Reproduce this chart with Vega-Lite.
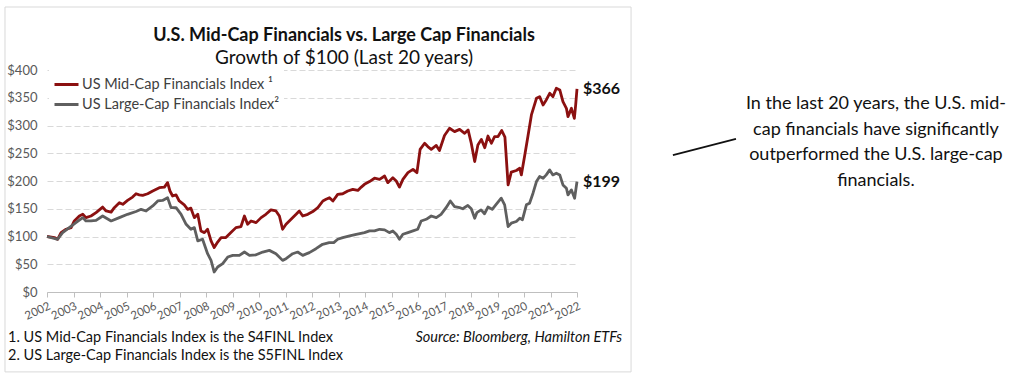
{
  "$schema": "https://vega.github.io/schema/vega-lite/v6.json",
  "width": 530,
  "height": 222,
  "autosize": {"type": "none"},
  "padding": {"left": 47, "top": 70, "right": 440, "bottom": 89},
  "background": "white",
  "title": {
    "text": "U.S. Mid-Cap Financials vs. Large Cap Financials",
    "subtitle": "Growth of $100 (Last 20 years)",
    "anchor": "middle",
    "dx": 32,
    "offset": -61,
    "font": "Lato",
    "fontSize": 18,
    "fontWeight": "bold",
    "color": "#111111",
    "subtitleFont": "Lato",
    "subtitleFontSize": 19,
    "subtitleColor": "#111111",
    "subtitlePadding": 4
  },
  "config": {
    "view": {"stroke": null},
    "font": "Lato",
    "axisX": {
      "format": "d", "labelFont": "Lato", "labelFontSize": 11.5, "labelColor": "#595959", "labelPadding": 3,
      "labelFlush": false, "grid": false, "domainColor": "#bfbfbf", "tickColor": "#bfbfbf", "tickSize": 5
    },
    "axisY": {
      "values": [0,50,100,150,200,250,300,350,400],
      "format": "$,.0f", "domain": false, "ticks": false, "labelPadding": 10,
      "labelOverlap": false,
      "labelFont": "Lato", "labelFontSize": 13, "labelColor": "#595959",
      "grid": true, "gridColor": "#d9d9d9", "gridDash": [6, 3]
    }
  },
  "datasets": {
    "d": [
      {"s":"mid","year":2002.0,"value":100},{"s":"mid","year":2002.28,"value":98},{"s":"mid","year":2002.4,"value":95},{"s":"mid","year":2002.53,"value":107},{"s":"mid","year":2002.72,"value":113},{"s":"mid","year":2002.91,"value":116},{"s":"mid","year":2003.03,"value":128},{"s":"mid","year":2003.22,"value":137},{"s":"mid","year":2003.35,"value":140},{"s":"mid","year":2003.47,"value":134},{"s":"mid","year":2003.66,"value":137},{"s":"mid","year":2003.85,"value":143},{"s":"mid","year":2004.1,"value":153},{"s":"mid","year":2004.23,"value":146},{"s":"mid","year":2004.42,"value":144},{"s":"mid","year":2004.54,"value":152},{"s":"mid","year":2004.73,"value":161},{"s":"mid","year":2004.86,"value":158},{"s":"mid","year":2005.04,"value":165},{"s":"mid","year":2005.23,"value":171},{"s":"mid","year":2005.36,"value":177},{"s":"mid","year":2005.48,"value":175},{"s":"mid","year":2005.61,"value":174},{"s":"mid","year":2005.8,"value":177},{"s":"mid","year":2005.99,"value":182},{"s":"mid","year":2006.24,"value":188},{"s":"mid","year":2006.43,"value":189},{"s":"mid","year":2006.55,"value":197},{"s":"mid","year":2006.64,"value":182},{"s":"mid","year":2006.74,"value":173},{"s":"mid","year":2006.87,"value":175},{"s":"mid","year":2006.99,"value":164},{"s":"mid","year":2007.18,"value":157},{"s":"mid","year":2007.31,"value":149},{"s":"mid","year":2007.43,"value":151},{"s":"mid","year":2007.56,"value":134},{"s":"mid","year":2007.69,"value":140},{"s":"mid","year":2007.81,"value":110},{"s":"mid","year":2007.94,"value":107},{"s":"mid","year":2008.06,"value":113},{"s":"mid","year":2008.19,"value":92},{"s":"mid","year":2008.31,"value":80},{"s":"mid","year":2008.44,"value":90},{"s":"mid","year":2008.57,"value":98},{"s":"mid","year":2008.75,"value":98},{"s":"mid","year":2008.94,"value":107},{"s":"mid","year":2009.13,"value":116},{"s":"mid","year":2009.32,"value":118},{"s":"mid","year":2009.45,"value":137},{"s":"mid","year":2009.57,"value":122},{"s":"mid","year":2009.7,"value":128},{"s":"mid","year":2009.89,"value":125},{"s":"mid","year":2010.08,"value":134},{"s":"mid","year":2010.26,"value":140},{"s":"mid","year":2010.45,"value":148},{"s":"mid","year":2010.64,"value":146},{"s":"mid","year":2010.77,"value":137},{"s":"mid","year":2010.89,"value":113},{"s":"mid","year":2011.02,"value":122},{"s":"mid","year":2011.21,"value":131},{"s":"mid","year":2011.4,"value":140},{"s":"mid","year":2011.52,"value":146},{"s":"mid","year":2011.65,"value":137},{"s":"mid","year":2011.84,"value":140},{"s":"mid","year":2012.03,"value":145},{"s":"mid","year":2012.22,"value":152},{"s":"mid","year":2012.41,"value":164},{"s":"mid","year":2012.53,"value":167},{"s":"mid","year":2012.66,"value":170},{"s":"mid","year":2012.79,"value":164},{"s":"mid","year":2012.97,"value":176},{"s":"mid","year":2013.16,"value":177},{"s":"mid","year":2013.35,"value":182},{"s":"mid","year":2013.54,"value":185},{"s":"mid","year":2013.73,"value":183},{"s":"mid","year":2013.86,"value":189},{"s":"mid","year":2013.98,"value":194},{"s":"mid","year":2014.17,"value":199},{"s":"mid","year":2014.36,"value":205},{"s":"mid","year":2014.55,"value":203},{"s":"mid","year":2014.74,"value":209},{"s":"mid","year":2014.86,"value":197},{"s":"mid","year":2015.05,"value":206},{"s":"mid","year":2015.18,"value":200},{"s":"mid","year":2015.3,"value":189},{"s":"mid","year":2015.43,"value":203},{"s":"mid","year":2015.62,"value":215},{"s":"mid","year":2015.81,"value":221},{"s":"mid","year":2015.96,"value":215},{"s":"mid","year":2016.08,"value":257},{"s":"mid","year":2016.25,"value":268},{"s":"mid","year":2016.37,"value":262},{"s":"mid","year":2016.5,"value":257},{"s":"mid","year":2016.69,"value":264},{"s":"mid","year":2016.81,"value":255},{"s":"mid","year":2017.0,"value":282},{"s":"mid","year":2017.19,"value":295},{"s":"mid","year":2017.38,"value":289},{"s":"mid","year":2017.57,"value":293},{"s":"mid","year":2017.76,"value":286},{"s":"mid","year":2017.89,"value":292},{"s":"mid","year":2018.01,"value":268},{"s":"mid","year":2018.14,"value":235},{"s":"mid","year":2018.26,"value":265},{"s":"mid","year":2018.39,"value":275},{"s":"mid","year":2018.52,"value":260},{"s":"mid","year":2018.64,"value":281},{"s":"mid","year":2018.77,"value":268},{"s":"mid","year":2018.89,"value":280},{"s":"mid","year":2019.02,"value":280},{"s":"mid","year":2019.16,"value":291},{"s":"mid","year":2019.28,"value":279},{"s":"mid","year":2019.4,"value":193},{"s":"mid","year":2019.52,"value":216},{"s":"mid","year":2019.71,"value":219},{"s":"mid","year":2019.84,"value":223},{"s":"mid","year":2019.9,"value":211},{"s":"mid","year":2020.03,"value":247},{"s":"mid","year":2020.15,"value":281},{"s":"mid","year":2020.28,"value":319},{"s":"mid","year":2020.47,"value":349},{"s":"mid","year":2020.59,"value":352},{"s":"mid","year":2020.72,"value":337},{"s":"mid","year":2020.84,"value":346},{"s":"mid","year":2020.97,"value":358},{"s":"mid","year":2021.09,"value":352},{"s":"mid","year":2021.22,"value":367},{"s":"mid","year":2021.35,"value":364},{"s":"mid","year":2021.47,"value":343},{"s":"mid","year":2021.6,"value":331},{"s":"mid","year":2021.66,"value":316},{"s":"mid","year":2021.79,"value":331},{"s":"mid","year":2021.9,"value":313},{"s":"mid","year":2021.95,"value":337},{"s":"mid","year":2022.0,"value":366},
      {"s":"large","year":2002.0,"value":100},{"s":"large","year":2002.4,"value":95},{"s":"large","year":2002.59,"value":107},{"s":"large","year":2002.84,"value":116},{"s":"large","year":2003.09,"value":125},{"s":"large","year":2003.35,"value":134},{"s":"large","year":2003.47,"value":128},{"s":"large","year":2003.66,"value":128},{"s":"large","year":2003.85,"value":129},{"s":"large","year":2004.1,"value":137},{"s":"large","year":2004.42,"value":128},{"s":"large","year":2004.73,"value":134},{"s":"large","year":2005.04,"value":140},{"s":"large","year":2005.36,"value":145},{"s":"large","year":2005.55,"value":149},{"s":"large","year":2005.74,"value":146},{"s":"large","year":2005.99,"value":155},{"s":"large","year":2006.18,"value":164},{"s":"large","year":2006.36,"value":165},{"s":"large","year":2006.55,"value":170},{"s":"large","year":2006.68,"value":152},{"s":"large","year":2006.87,"value":152},{"s":"large","year":2007.06,"value":140},{"s":"large","year":2007.25,"value":122},{"s":"large","year":2007.43,"value":113},{"s":"large","year":2007.56,"value":116},{"s":"large","year":2007.69,"value":92},{"s":"large","year":2007.87,"value":95},{"s":"large","year":2008.06,"value":69},{"s":"large","year":2008.19,"value":57},{"s":"large","year":2008.31,"value":36},{"s":"large","year":2008.44,"value":45},{"s":"large","year":2008.63,"value":51},{"s":"large","year":2008.82,"value":63},{"s":"large","year":2009.01,"value":66},{"s":"large","year":2009.26,"value":66},{"s":"large","year":2009.45,"value":72},{"s":"large","year":2009.64,"value":66},{"s":"large","year":2009.89,"value":67},{"s":"large","year":2010.14,"value":72},{"s":"large","year":2010.39,"value":75},{"s":"large","year":2010.64,"value":69},{"s":"large","year":2010.89,"value":57},{"s":"large","year":2011.02,"value":60},{"s":"large","year":2011.27,"value":69},{"s":"large","year":2011.46,"value":72},{"s":"large","year":2011.65,"value":66},{"s":"large","year":2011.9,"value":71},{"s":"large","year":2012.15,"value":78},{"s":"large","year":2012.4,"value":86},{"s":"large","year":2012.65,"value":89},{"s":"large","year":2012.82,"value":89},{"s":"large","year":2012.97,"value":95},{"s":"large","year":2013.16,"value":98},{"s":"large","year":2013.42,"value":101},{"s":"large","year":2013.67,"value":104},{"s":"large","year":2013.98,"value":107},{"s":"large","year":2014.17,"value":110},{"s":"large","year":2014.36,"value":110},{"s":"large","year":2014.55,"value":113},{"s":"large","year":2014.74,"value":112},{"s":"large","year":2014.92,"value":107},{"s":"large","year":2015.05,"value":110},{"s":"large","year":2015.18,"value":104},{"s":"large","year":2015.3,"value":95},{"s":"large","year":2015.43,"value":104},{"s":"large","year":2015.62,"value":107},{"s":"large","year":2015.81,"value":110},{"s":"large","year":2015.99,"value":113},{"s":"large","year":2016.12,"value":128},{"s":"large","year":2016.31,"value":131},{"s":"large","year":2016.5,"value":137},{"s":"large","year":2016.69,"value":134},{"s":"large","year":2016.87,"value":140},{"s":"large","year":2017.06,"value":152},{"s":"large","year":2017.22,"value":164},{"s":"large","year":2017.38,"value":154},{"s":"large","year":2017.57,"value":152},{"s":"large","year":2017.69,"value":150},{"s":"large","year":2017.88,"value":156},{"s":"large","year":2018.01,"value":150},{"s":"large","year":2018.14,"value":133},{"s":"large","year":2018.22,"value":143},{"s":"large","year":2018.38,"value":148},{"s":"large","year":2018.51,"value":141},{"s":"large","year":2018.64,"value":153},{"s":"large","year":2018.8,"value":149},{"s":"large","year":2018.95,"value":158},{"s":"large","year":2019.14,"value":169},{"s":"large","year":2019.27,"value":157},{"s":"large","year":2019.4,"value":118},{"s":"large","year":2019.52,"value":124},{"s":"large","year":2019.71,"value":127},{"s":"large","year":2019.84,"value":133},{"s":"large","year":2019.94,"value":130},{"s":"large","year":2020.09,"value":157},{"s":"large","year":2020.21,"value":160},{"s":"large","year":2020.34,"value":178},{"s":"large","year":2020.47,"value":199},{"s":"large","year":2020.59,"value":208},{"s":"large","year":2020.72,"value":205},{"s":"large","year":2020.84,"value":211},{"s":"large","year":2020.97,"value":220},{"s":"large","year":2021.09,"value":211},{"s":"large","year":2021.22,"value":214},{"s":"large","year":2021.35,"value":211},{"s":"large","year":2021.47,"value":193},{"s":"large","year":2021.6,"value":187},{"s":"large","year":2021.66,"value":175},{"s":"large","year":2021.79,"value":184},{"s":"large","year":2021.91,"value":169},{"s":"large","year":2022.0,"value":199}
    ]
  },
  "data": {"name": "d"},
  "layer": [
    {
      "mark": {"type": "line", "strokeWidth": 2.8, "strokeJoin": "round"},
      "encoding": {
        "x": {
          "field": "year", "type": "quantitative", "title": null,
          "scale": {"domain": [2002, 2022], "nice": false, "zero": false},
          "axis": {"values": [2002,2003,2004,2005,2006,2007,2008,2009,2010,2011,2012,2013,2014,2015,2016,2017,2018,2019,2020,2021,2022], "labelAngle": -25, "labelAlign": "right", "labelBaseline": "top", "labelOverlap": false}
        },
        "y": {
          "field": "value", "type": "quantitative", "title": null,
          "scale": {"domain": [0, 400], "nice": false}
        },
        "color": {
          "field": "s", "type": "nominal",
          "scale": {"domain": ["mid", "large"], "range": ["#8B1010", "#5f5f5f"]},
          "legend": {
            "orient": "none", "legendX": 2, "legendY": -3, "title": null,
            "fillColor": "white", "padding": 4,
            "symbolType": "stroke", "symbolSize": 576, "symbolStrokeWidth": 3,
            "labelFont": "Lato", "labelFontSize": 14.5, "labelColor": "#404040", "labelOffset": 2,
            "rowPadding": -4, "labelLimit": 300,
            "labelExpr": "datum.value == 'mid' ? 'US Mid-Cap Financials Index ¹' : 'US Large-Cap Financials Index²'"
          }
        }
      }
    },
    {
      "data": {"values": [{}]},
      "mark": {"type": "rect", "fill": "white", "fillOpacity": 0, "stroke": "#d9d9d9", "strokeWidth": 1},
      "encoding": {
        "x": {"datum": 2000.415, "type": "quantitative", "title": null, "axis": {"values": [2002,2003,2004,2005,2006,2007,2008,2009,2010,2011,2012,2013,2014,2015,2016,2017,2018,2019,2020,2021,2022], "labelAngle": -25, "labelAlign": "right", "labelBaseline": "top", "labelOverlap": false}},
        "x2": {"datum": 2024.04},
        "y": {"datum": 513.5, "type": "quantitative", "title": null},
        "y2": {"datum": -144}
      }
    },
    {
      "transform": [{"filter": "datum.year == 2022"}],
      "mark": {"type": "text", "align": "left", "baseline": "middle", "dx": 6, "font": "Lato", "fontSize": 16, "fontWeight": "bold", "color": "#111111"},
      "encoding": {
        "x": {"field": "year", "type": "quantitative", "title": null, "axis": {"values": [2002,2003,2004,2005,2006,2007,2008,2009,2010,2011,2012,2013,2014,2015,2016,2017,2018,2019,2020,2021,2022], "labelAngle": -25, "labelAlign": "right", "labelBaseline": "top", "labelOverlap": false}},
        "y": {"field": "value", "type": "quantitative", "title": null},
        "text": {"field": "value", "type": "quantitative", "format": "$.0f"}
      }
    },
    {
      "data": {"values": [{}]},
      "mark": {"type": "text", "align": "left", "baseline": "middle", "font": "Lato", "fontSize": 14.5, "color": "#111111", "lineHeight": 18},
      "encoding": {
        "x": {"datum": 2000.53, "type": "quantitative", "title": null, "axis": {"values": [2002,2003,2004,2005,2006,2007,2008,2009,2010,2011,2012,2013,2014,2015,2016,2017,2018,2019,2020,2021,2022], "labelAngle": -25, "labelAlign": "right", "labelBaseline": "top", "labelOverlap": false}},
        "y": {"datum": -82.9, "type": "quantitative", "title": null},
        "text": {"value": ["1. US Mid-Cap Financials Index is the S4FINL Index", "2. US Large-Cap Financials Index is the S5FINL Index"]}
      }
    },
    {
      "data": {"values": [{}]},
      "mark": {"type": "text", "align": "right", "baseline": "middle", "font": "Lato", "fontSize": 14.5, "fontStyle": "italic", "color": "#111111"},
      "encoding": {
        "x": {"datum": 2023.7, "type": "quantitative", "title": null, "axis": {"values": [2002,2003,2004,2005,2006,2007,2008,2009,2010,2011,2012,2013,2014,2015,2016,2017,2018,2019,2020,2021,2022], "labelAngle": -25, "labelAlign": "right", "labelBaseline": "top", "labelOverlap": false}},
        "y": {"datum": -82.9, "type": "quantitative", "title": null},
        "text": {"value": "Source: Bloomberg, Hamilton ETFs"}
      }
    },
    {
      "data": {"values": [{}]},
      "mark": {"type": "text", "align": "center", "baseline": "middle", "font": "Lato", "fontSize": 18, "color": "#111111", "lineHeight": 25.5},
      "encoding": {
        "x": {"datum": 2033.28, "type": "quantitative", "title": null, "axis": {"values": [2002,2003,2004,2005,2006,2007,2008,2009,2010,2011,2012,2013,2014,2015,2016,2017,2018,2019,2020,2021,2022], "labelAngle": -25, "labelAlign": "right", "labelBaseline": "top", "labelOverlap": false}},
        "y": {"datum": 338.7, "type": "quantitative", "title": null},
        "text": {"value": ["In the last 20 years, the U.S. mid-", "cap financials have significantly", "outperformed the U.S. large-cap", "financials."]}
      }
    },
    {
      "data": {"values": [{}]},
      "mark": {"type": "rule", "color": "#111111", "strokeWidth": 1.8},
      "encoding": {
        "x": {"datum": 2025.62, "type": "quantitative", "title": null, "axis": {"values": [2002,2003,2004,2005,2006,2007,2008,2009,2010,2011,2012,2013,2014,2015,2016,2017,2018,2019,2020,2021,2022], "labelAngle": -25, "labelAlign": "right", "labelBaseline": "top", "labelOverlap": false}},
        "x2": {"datum": 2028.0},
        "y": {"datum": 246.8, "type": "quantitative", "title": null},
        "y2": {"datum": 275.7}
      }
    }
  ]
}
